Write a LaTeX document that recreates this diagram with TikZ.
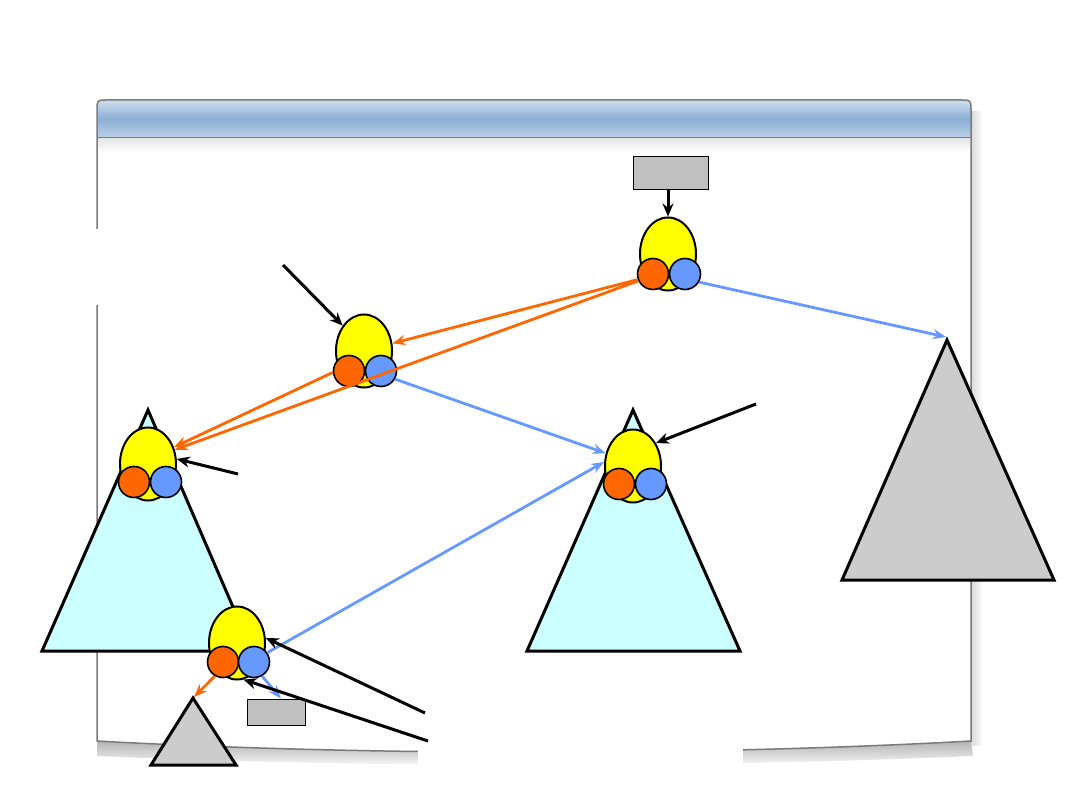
\documentclass[tikz,border=0pt]{standalone}
\usetikzlibrary{arrows.meta,shapes.geometric}
\definecolor{eggy}{HTML}{FFFF00}
\definecolor{orng}{HTML}{FF6600}
\definecolor{bluec}{HTML}{6699FF}
\definecolor{cyanc}{HTML}{CCFFFF}
\definecolor{grayt}{HTML}{CCCCCC}
\definecolor{grayr}{HTML}{C0C0C0}
\definecolor{framec}{HTML}{7A7A7A}
\definecolor{barTop}{HTML}{CFDDEE}
\definecolor{barMid}{HTML}{8DAED4}
\definecolor{barBot}{HTML}{BCD0E8}
\begin{document}
\begin{tikzpicture}[x=1pt,y=-1pt,
  egg/.style={ellipse, draw, line width=2pt, fill=eggy, minimum width=56pt, minimum height=73pt, inner sep=0pt},
  ocirc/.style={circle, draw, line width=1.6pt, fill=orng, minimum size=31pt, inner sep=0pt},
  bcirc/.style={circle, draw, line width=1.6pt, fill=bluec, minimum size=31pt, inner sep=0pt},
  oarr/.style={draw=orng, line width=2.8pt, -{Stealth[length=13pt,width=10pt]}},
  barr/.style={draw=bluec, line width=2.8pt, -{Stealth[length=13pt,width=10pt]}},
  karr/.style={draw=black, line width=3pt, -{Stealth[length=13pt,width=11pt]}},
  tri/.style={draw, line width=3pt, line join=miter},
  gbox/.style={rectangle, draw, line width=1pt, fill=grayr, inner sep=0pt}
]
\useasboundingbox (0,0) rectangle (1080,810);
% shadows of the window
\shade[top color=black!30, bottom color=white] (97,741) .. controls (370,756) and (700,756) .. (971,741) -- (973,756) .. controls (700,768) and (370,768) .. (97,756) -- cycle;
\shade[left color=black!15, right color=white] (971,112) rectangle (983,745);
% window
\fill[white] (97,741) -- (97,110) .. controls (97,100) .. (107,100) -- (961,100) .. controls (971,100) .. (971,110) -- (971,741) .. controls (700,756) and (370,756) .. (97,741) -- cycle;
\shade[top color=barTop, bottom color=barBot, middle color=barMid] (97,138) -- (97,110) .. controls (97,100) .. (107,100) -- (961,100) .. controls (971,100) .. (971,110) -- (971,138) -- cycle;
\shade[top color=black!10, bottom color=white] (98,139) rectangle (970,152);
\draw[framec, line width=1pt] (97,138) -- (971,138);
\draw[framec, line width=1.5pt] (97,741) -- (97,110) .. controls (97,100) .. (107,100) -- (961,100) .. controls (971,100) .. (971,110) -- (971,741) .. controls (700,756) and (370,756) .. (97,741) -- cycle;
% covered areas
\fill[white] (80,229) rectangle (106,305);
\fill[white] (418,745) rectangle (743,810);
% triangles
\draw[tri, fill=cyanc] (148,410) -- (252,651) -- (42,651) -- cycle;
\draw[tri, fill=cyanc] (633,410) -- (740,651) -- (527,651) -- cycle;
\draw[tri, fill=grayt] (947,340) -- (1054,580) -- (842,580) -- cycle;
\draw[tri, fill=grayt] (193,698) -- (236,765) -- (151,765) -- cycle;
\coordinate (gtop) at (946,337);
\coordinate (stop) at (194,697);
% boxes
\node[gbox, minimum width=75pt, minimum height=33pt] (r1) at (670.5,173.5) {};
\node[gbox, minimum width=58pt, minimum height=26pt] (r2) at (276,712) {};
% nodes
\node[egg] (A) at (668,254) {};
\node[ocirc] (Ao) at (653,274) {};
\node[bcirc] (Ab) at (685,274) {};
\node[egg] (B) at (364,351) {};
\node[ocirc] (Bo) at (349,371) {};
\node[bcirc] (Bb) at (381,371) {};
\node[egg] (C) at (148,464) {};
\node[ocirc] (Co) at (134,482) {};
\node[bcirc] (Cb) at (166,482) {};
\node[egg] (D) at (633,466) {};
\node[ocirc] (Do) at (619,484) {};
\node[bcirc] (Db) at (651,484) {};
\node[egg] (E) at (237,643) {};
\node[ocirc] (Eo) at (223,662) {};
\node[bcirc] (Eb) at (254,662) {};
% pointer ends
\coordinate (p1) at (283,265);
\coordinate (p2) at (238,474);
\coordinate (p3) at (756,404);
\coordinate (p4) at (425,713);
\coordinate (p5) at (428,741);
% orange connectors
\draw[oarr] (Ao.200) -- (B.15);
\draw[oarr] (Ao.205) -- (C.28);
\draw[oarr] (Bo.185) -- (C.33);
\draw[oarr] (Eo.240) -- (stop);
% blue connectors
\draw[barr] (Ab.-30) -- (gtop);
\draw[barr] (Bb.-30) -- (D.155);
\draw[barr] (Eb.35) -- (D.172);
\draw[barr] (Eb.-60) -- (r2.70);
% black pointers
\draw[karr] (A.north |- r1.south) -- (A.north);
\draw[karr] (p1) -- (B.130);
\draw[karr] (p2) -- (C.10);
\draw[karr] (p3) -- (D.45);
\draw[karr] (p4) -- (E.10);
\draw[karr] (p5) -- (E.-80);
\end{tikzpicture}
\end{document}
